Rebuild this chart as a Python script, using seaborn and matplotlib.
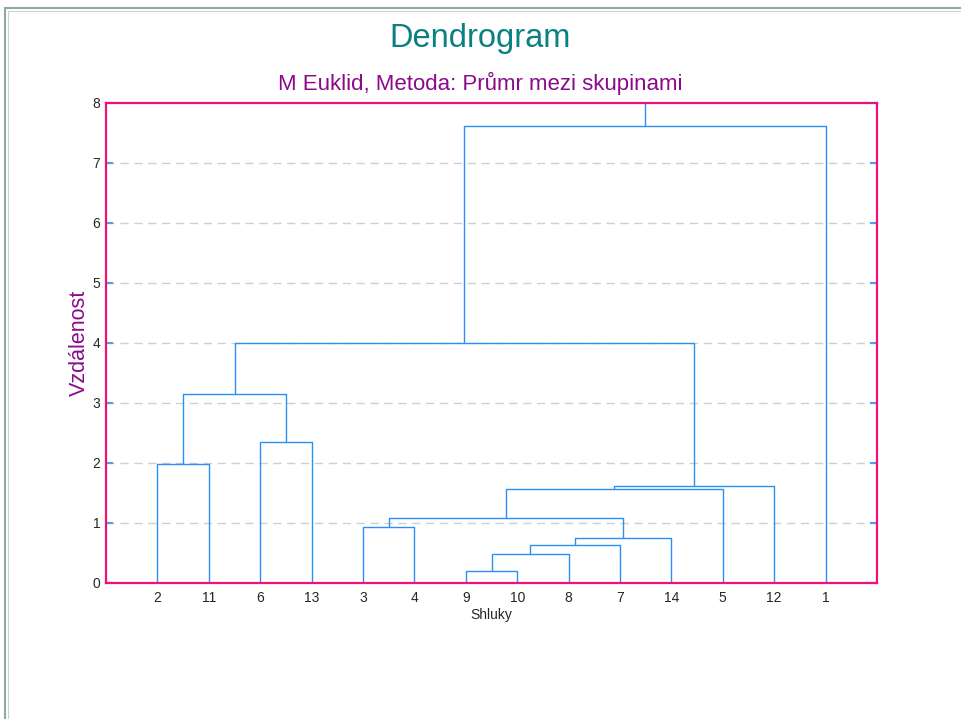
import numpy as np
import pandas as pd
import matplotlib
matplotlib.use("Agg")
import matplotlib.pyplot as plt
import seaborn as sns
from matplotlib.patches import Rectangle

# leaf order along the x axis
leaves = ["2", "11", "6", "13", "3", "4", "9", "10", "8", "7", "14", "5", "12", "1"]

# merges: (left cluster, right cluster, distance); new clusters are named "c0", "c1", ...
merge_left = ["9", "c0", "c1", "c2", "3", "c4", "c5", "c6", "2", "6", "c8", "c10", "c11"]
merge_right = ["10", "8", "7", "14", "4", "c3", "5", "12", "11", "13", "c9", "c7", "1"]
merge_dist = [0.20, 0.48, 0.63, 0.75, 0.93, 1.08, 1.57, 1.61, 1.98, 2.35, 3.15, 4.00, 7.62]
y_ticks = [0, 1, 2, 3, 4, 5, 6, 7, 8]

sns.set_style("white")
plt.rcParams['font.family'] = ['Liberation Sans', 'DejaVu Sans']

# build the segments of the dendrogram
pos = {name: i + 1 for i, name in enumerate(leaves)}
height = {name: 0.0 for name in leaves}
rows = []
seg = 0
for k, (a, b, d) in enumerate(zip(merge_left, merge_right, merge_dist)):
    xa, xb = pos[a], pos[b]
    for x, y in [(xa, height[a]), (xa, d), (xb, d), (xb, height[b])]:
        rows.append({'seg': seg, 'x': x, 'y': y})
    seg += 1
    name = f"c{k}"
    pos[name] = (xa + xb) / 2
    height[name] = d
root = f"c{len(merge_dist) - 1}"
for y in [height[root], y_ticks[-1]]:
    rows.append({'seg': seg, 'x': pos[root], 'y': y})
segments = pd.DataFrame(rows)

fig = plt.figure(figsize=(9.61, 7.19), dpi=100)
ax = fig.add_axes([0.1103, 0.1892, 0.8023, 0.6676])

# dashed grid lines
for yv in y_ticks[1:-1]:
    ax.axhline(yv, color='#cfcfcf', lw=1.0, ls=(0, (6, 4)), zorder=0)

sns.lineplot(data=segments, x='x', y='y', units='seg', estimator=None, sort=False,
             color='#2b8ff5', lw=1.0, ax=ax, legend=False)

ax.set_xlim(0, len(leaves) + 1)
ax.set_ylim(y_ticks[0], y_ticks[-1])
ax.set_xticks(range(1, len(leaves) + 1))
ax.set_xticklabels(leaves, fontsize=10)
ax.set_yticks(y_ticks)
ax.set_yticklabels([str(t) for t in y_ticks], fontsize=10)
ax.tick_params(axis='x', length=0, pad=6)
ax.tick_params(axis='y', direction='in', length=5, color='#4a9fe8', width=1.5,
               right=True, left=True, pad=4)

for sp in ax.spines.values():
    sp.set_color('#f0107a')
    sp.set_linewidth(1.6)
    sp.set_visible(True)

ax.set_xlabel('Shluky', fontsize=10, labelpad=2)
ax.set_ylabel('Vzdálenost', fontsize=15.5, color='#8b0a8b', labelpad=2)

fig.text(0.5, 0.946, 'Dendrogram', ha='center', va='center', fontsize=23.5, color='#0a8080')
fig.text(0.5, 0.884, 'M Euklid, Metoda: Průmr mezi skupinami', ha='center', va='center',
         fontsize=16, color='#8b0a8b')

# outer frame
fig.patches.append(Rectangle((5 / 961, -0.05), 1.1, (719 - 8) / 719 + 0.05,
                             transform=fig.transFigure, fill=False,
                             edgecolor='#8fa8a0', lw=1.5))
fig.patches.append(Rectangle((8 / 961, -0.05), 1.1, (719 - 11) / 719 + 0.05,
                             transform=fig.transFigure, fill=False,
                             edgecolor='#c8d4d0', lw=0.8))

fig.savefig('out.png', dpi=100)
